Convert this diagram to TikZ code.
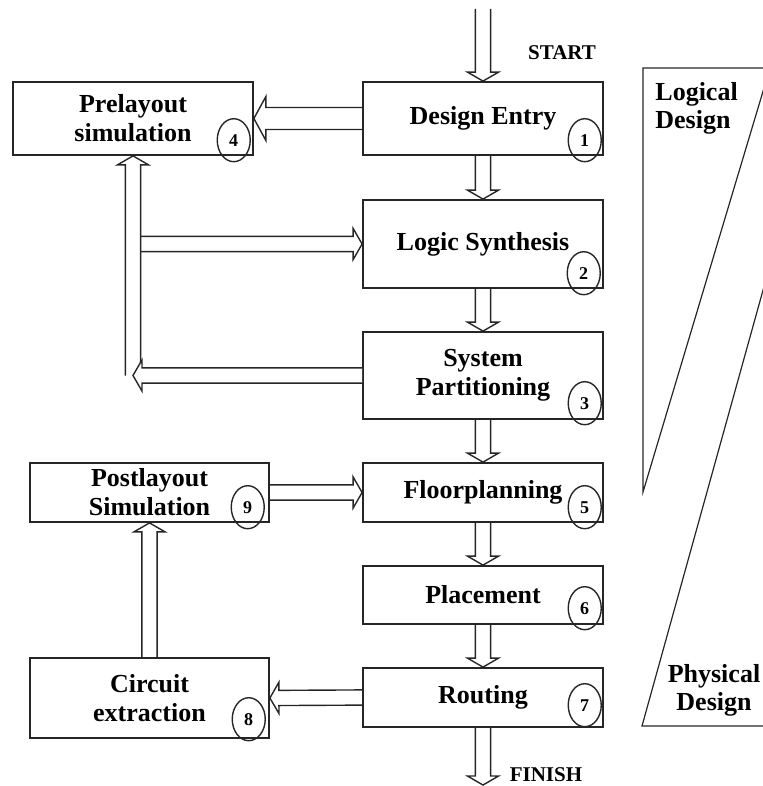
\documentclass[tikz,border=0pt]{standalone}
\usepackage{fontspec}
\setmainfont{Liberation Serif}
\usetikzlibrary{calc,shapes.geometric}

\tikzset{
  stage/.style={draw=black!85, line width=0.9pt, inner sep=0pt, align=center,
    minimum width=120pt, font=\bfseries\fontsize{13}{14.5}\selectfont},
  num/.style={draw=black!85, line width=0.7pt, ellipse, inner sep=0pt,
    minimum width=16.5pt, minimum height=21.5pt, font=\bfseries\fontsize{9}{9}\selectfont},
  arrowline/.style={draw=black!85, line width=0.7pt, line join=miter},
  tag/.style={inner sep=0pt, font=\bfseries\fontsize{10.5}{12}\selectfont},
  side/.style={inner sep=0pt, font=\bfseries\fontsize{13}{14}\selectfont},
  wedge/.style={draw=black!85, line width=0.6pt}
}

% hollow block arrow from #2 to #3
\def\shaftw{3.8pt}
\def\headw{7.8pt}
\def\headlen{4.5pt}
\newcommand{\hollowarrow}[3][]{%
  \coordinate (ha-s) at (#2);
  \coordinate (ha-t) at (#3);
  \coordinate (ha-h) at ($(ha-t)!\headlen!(ha-s)$);
  \draw[arrowline,#1] ($(ha-s)!\shaftw!90:(ha-t)$) -- ($(ha-h)!\shaftw!90:(ha-t)$)
    -- ($(ha-h)!\headw!90:(ha-t)$) -- (ha-t) -- ($(ha-h)!\headw!-90:(ha-t)$)
    -- ($(ha-h)!\shaftw!-90:(ha-t)$) -- ($(ha-s)!\shaftw!-90:(ha-t)$);
}

\begin{document}
\begin{tikzpicture}[x=0.5pt,y=-0.5pt]
  \useasboundingbox (0,0) rectangle (763,786);
  % flow stages
  \node[stage, minimum height=36.5pt] (entry) at (483,118.5) {Design Entry};
  \node[stage, minimum height=36.5pt] (prelay) at (133,118.5) {Prelayout\\simulation};
  \node[stage, minimum height=44pt] (synth) at (483,244) {Logic Synthesis};
  \node[stage, minimum height=43.5pt] (part) at (483,375.5) {System\\Partitioning};
  \node[stage, minimum height=29.5pt] (floor) at (483,492.5) {Floorplanning};
  \node[stage, minimum height=29pt] (place) at (483,595) {Placement};
  \node[stage, minimum height=29.5pt] (route) at (483,697.5) {Routing};
  \node[stage, minimum width=119.5pt, minimum height=29.5pt] (post) at (149.5,492.5) {Postlayout\\Simulation};
  \node[stage, minimum width=119.5pt, minimum height=40pt] (circ) at (149.5,698) {Circuit\\extraction};
  % step numbers
  \foreach \b/\n/\dx/\dy in {entry/1/3.5pt/0pt, synth/2/4pt/0pt, part/3/3.5pt/0.5pt,
      prelay/4/4pt/0pt, floor/5/3.5pt/0pt, place/6/3.5pt/0.5pt, route/7/3.5pt/3.5pt,
      circ/8/4.5pt/2pt, post/9/5pt/0pt}
    \node[num, anchor=south east] (n\n) at ([xshift=-\dx, yshift=\dy]\b.south east) {\n};
  % main flow
  \coordinate (start) at (483,9);
  \coordinate (finish) at (483,785);
  \hollowarrow{start}{entry.north}
  \hollowarrow{entry.south}{synth.north}
  \hollowarrow{synth.south}{part.north}
  \hollowarrow{part.south}{floor.north}
  \hollowarrow{floor.south}{place.north}
  \hollowarrow{place.south}{route.north}
  \hollowarrow{route.south}{finish}
  {\def\shaftw{5.5pt}\def\headw{11pt}\def\headlen{6pt}%
   \hollowarrow{entry.west}{prelay.east}}
  % feedback loop
  \coordinate (fb) at (prelay.south |- part.west);
  \hollowarrow{fb}{prelay.south}
  \hollowarrow{$(fb |- synth.west)+(7.5,0)$}{synth.west}
  \hollowarrow[fill=white]{part.west}{fb}
  \hollowarrow{post.east}{floor.west}
  \hollowarrow{route.west}{circ.east}
  \hollowarrow{circ.north}{post.south}
  % logical / physical wedges
  \begin{scope}
    \clip (0,0) rectangle (763,786);
    \draw[wedge] (770,68) -- (643,68) -- (643,492) -- cycle;
    \draw[wedge] (770,265) -- (642,726) -- (770,726);
  \end{scope}
  \node[side, align=left, anchor=north west] (logical) at (655,82) {Logical\\Design};
  \node[side, align=center, anchor=north] (physical) at (714,664) {Physical\\Design};
  \node[tag] (startlbl) at (562,53) {START};
  \node[tag] (finishlbl) at (546,775) {FINISH};
\end{tikzpicture}
\end{document}
